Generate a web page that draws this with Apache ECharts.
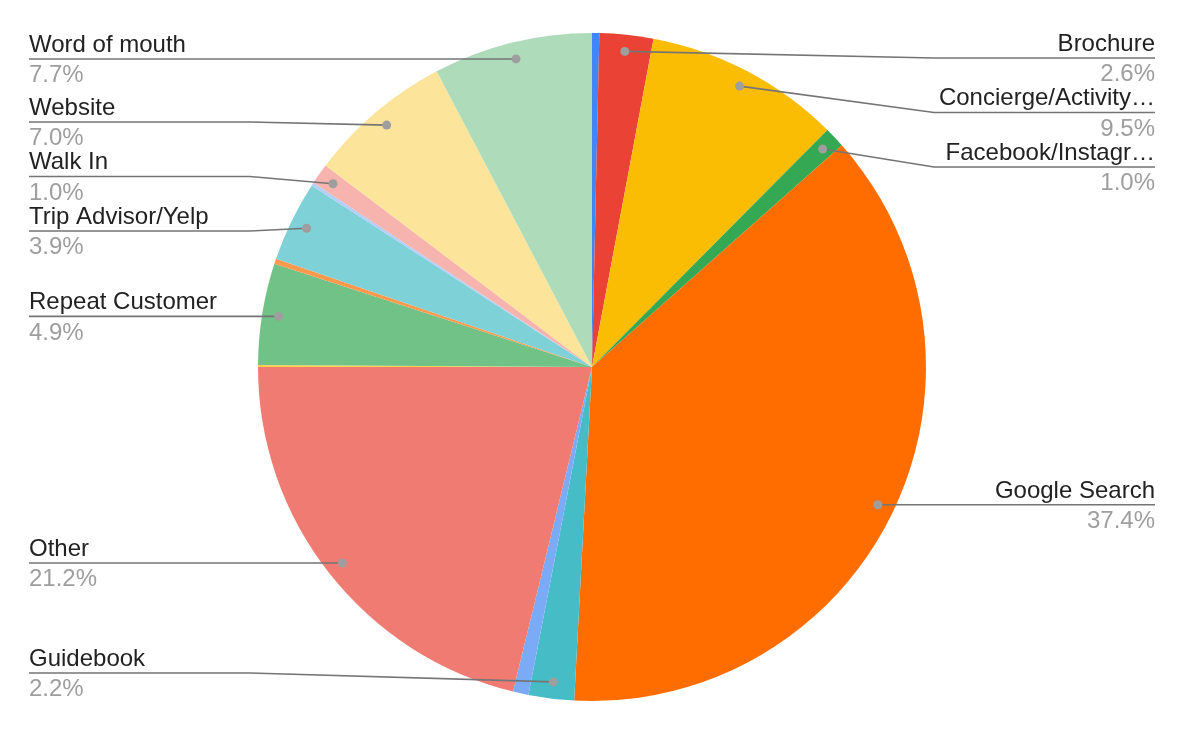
<!DOCTYPE html>
<html>
<head>
<meta charset="utf-8">
<script src="https://cdn.jsdelivr.net/npm/echarts@6/dist/echarts.min.js"></script>
<style>
  html, body { margin: 0; padding: 0; background: #ffffff; }
  #chart { width: 1184px; height: 734px; }
</style>
</head>
<body>
<div id="chart"></div>
<script>
// ---- data (clockwise from 12 o'clock) ----
const categories = [
  '(unlabeled 1)', 'Brochure', 'Concierge/Activity…', 'Facebook/Instagr…',
  'Google Search', 'Guidebook', '(unlabeled 2)', 'Other', '(unlabeled 3)',
  'Repeat Customer', '(unlabeled 4)', 'Trip Advisor/Yelp', '(unlabeled 5)',
  'Walk In', 'Website', 'Word of mouth'
];
const values = [0.35, 2.6, 9.5, 1.0, 37.4, 2.2, 0.75, 21.2, 0.1, 4.9, 0.25, 3.9, 0.15, 1.0, 7.0, 7.7];
const colors = ['#4285F4','#EA4335','#FBBC04','#34A853','#FF6D01','#46BDC6','#7BAAF7','#F07B72',
                '#FCD04F','#71C287','#FF994D','#7ED1D7','#B3CEFB','#F7B4AE','#FDE49B','#AEDCBA'];

// ---- layout constants ----
const PIE_RADIUS = 334;
const DOT_FRAC = 0.95;
const EDGE = 29;
const SPACING = 54.5;
const LINE_MIN_Y = 58;
const LINE_MAX_BOTTOM_GAP = 61;
const BEND_GAP = 8;
const TEXT_SHIFT = 1.5;
const CLUSTER_BIAS = -2.5;
const LABEL_MIN_SHARE = 0.0095;
const FONT = '"Liberation Sans", Arial, sans-serif';

const chart = echarts.init(document.getElementById('chart'), null, { renderer: 'canvas' });
const W = chart.getWidth(), H = chart.getHeight();
const cx = W / 2, cy = H / 2;
const total = values.reduce((a, b) => a + b, 0);
const showLabel = values.map(v => v / total >= LABEL_MIN_SHARE);

// mid positions of every slice (in value units), used for dots & label anchor
const mids = [];
{ let cum = 0; values.forEach(v => { mids.push(cum + v / 2); cum += v; }); }

// label placement (label line at dot height, stacked to avoid overlap)
const layoutTable = {};
(function () {
  const left = [], right = [];
  values.forEach((v, i) => {
    if (!showLabel[i]) return;
    const a = mids[i] / total * 2 * Math.PI;
    const dx = Math.sin(a), dy = -Math.cos(a);
    const it = { i, side: dx >= 0 ? 1 : -1,
      dotX: cx + DOT_FRAC * PIE_RADIUS * dx, dotY: cy + DOT_FRAC * PIE_RADIUS * dy };
    (dx >= 0 ? right : left).push(it);
  });
  const maxY = H - LINE_MAX_BOTTOM_GAP;
  function place(list) {
    list.sort((a, b) => a.dotY - b.dotY);
    const clusters = list.map(it => ({ items: [it], sum: it.dotY }));
    const pos = c => {
      const n = c.items.length;
      let top = c.sum / n - (n - 1) * SPACING / 2 + (n > 1 ? CLUSTER_BIAS : 0);
      top = Math.min(top, maxY - (n - 1) * SPACING);
      top = Math.max(top, LINE_MIN_Y);
      return top;
    };
    let merged = true;
    while (merged) {
      merged = false;
      for (let k = 0; k < clusters.length - 1; k++) {
        const a = clusters[k], b = clusters[k + 1];
        if (pos(a) + a.items.length * SPACING > pos(b) + 1e-6) {
          a.items = a.items.concat(b.items); a.sum += b.sum;
          clusters.splice(k + 1, 1); merged = true; break;
        }
      }
    }
    clusters.forEach(c => { const t = pos(c); c.items.forEach((it, j) => { it.y = t + j * SPACING; }); });
  }
  place(left); place(right);
  left.concat(right).forEach(it => { layoutTable[it.i] = it; });
})();

const pieData = categories.map((name, i) => ({ name, value: values[i], itemStyle: { color: colors[i] } }));

const labelData = categories.map((name, i) => {
  const d = { name, value: values[i] };
  if (!showLabel[i]) { d.label = { show: false }; d.labelLine = { show: false }; }
  return d;
});

const dotData = [];
values.forEach((v, i) => { if (showLabel[i]) dotData.push([DOT_FRAC, mids[i]]); });

const option = {
  backgroundColor: '#ffffff',
  animation: false,
  polar: { center: ['50%', '50%'], radius: PIE_RADIUS },
  angleAxis: { type: 'value', min: 0, max: total, startAngle: 90, clockwise: true, show: false },
  radiusAxis: { type: 'value', min: 0, max: 1, show: false },
  series: [
    {
      type: 'pie',
      center: ['50%', '50%'],
      radius: PIE_RADIUS,
      startAngle: 90,
      clockwise: true,
      data: pieData,
      itemStyle: { borderWidth: 0 },
      emphasis: { disabled: true },
      label: { show: false },
      labelLine: { show: false },
      silent: true,
      z: 2
    },
    {
      // transparent copy carrying the labels so their lines sit above the slices
      type: 'pie',
      center: ['50%', '50%'],
      radius: PIE_RADIUS,
      startAngle: 90,
      clockwise: true,
      data: labelData,
      itemStyle: { color: 'rgba(0,0,0,0)', borderWidth: 0 },
      emphasis: { disabled: true },
      silent: true,
      label: {
        show: true,
        position: 'outside',
        alignTo: 'edge',
        edgeDistance: EDGE,
        fontFamily: FONT,
        formatter: p => '{n|' + p.name + '}\n{p|' + p.percent.toFixed(1) + '%}',
        rich: {
          n: { fontFamily: FONT, fontSize: 24, color: '#222222', lineHeight: 30.5 },
          p: { fontFamily: FONT, fontSize: 24, color: '#9e9e9e', lineHeight: 30.5 }
        }
      },
      labelLine: {
        show: true, showAbove: true, length: 4, length2: 4, smooth: false,
        lineStyle: { color: '#757575', width: 1.6 }
      },
      labelLayout: function (params) {
        const it = layoutTable[params.dataIndex];
        if (!it) return {};
        const y = it.y;
        const bendX = cx + it.side * (PIE_RADIUS + BEND_GAP);
        const farX = it.side > 0 ? W - EDGE : EDGE;
        return {
          y: y + TEXT_SHIFT,
          labelLinePoints: [[it.dotX, it.dotY], [bendX, y], [farX, y]]
        };
      },
      z: 5
    },
    {
      type: 'scatter',
      coordinateSystem: 'polar',
      data: dotData,
      symbol: 'circle',
      symbolSize: 9,
      itemStyle: { color: '#9e9e9e', opacity: 1 },
      silent: true,
      z: 10
    }
  ]
};
chart.setOption(option);
</script>
</body>
</html>
